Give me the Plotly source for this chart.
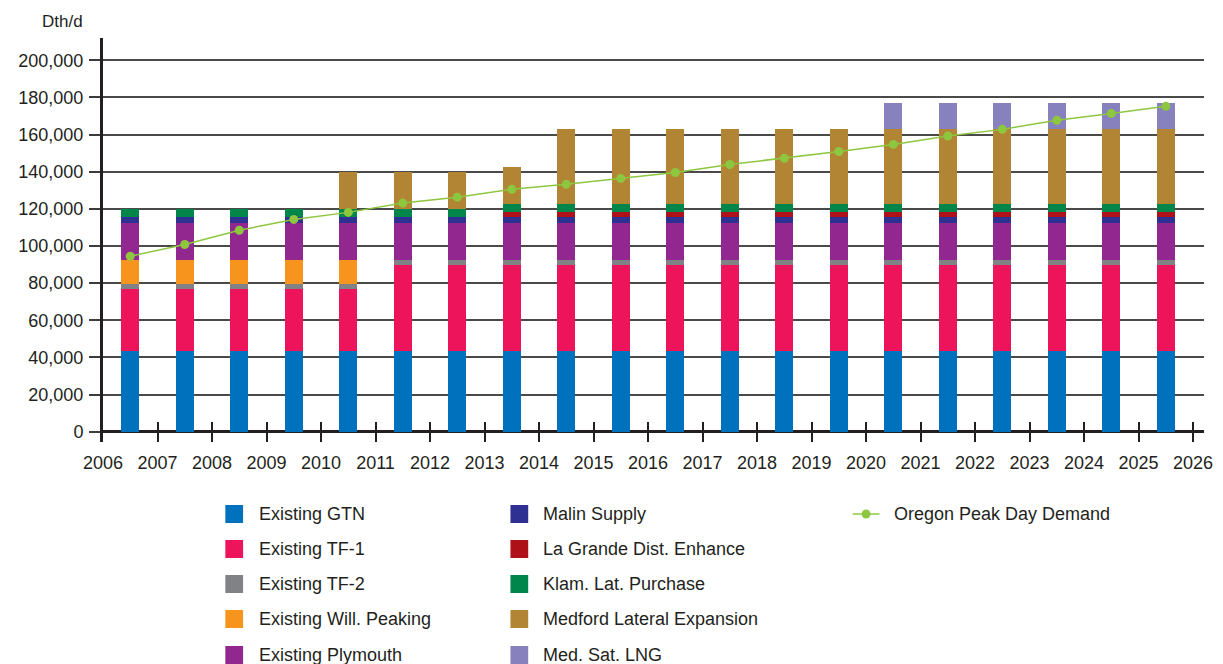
import plotly.graph_objects as go

years = list(range(2006, 2026))

existing_gtn = [43400] * 20
existing_tf1 = [33400] * 5 + [46400] * 15
existing_tf2 = [2700] * 20
will_peaking = [13000] * 5 + [0] * 15
plymouth = [20000] * 20
malin = [3000] * 20
la_grande = [0] * 7 + [2800] * 13
klamath = [4400] * 7 + [4300] * 13
medford = [0] * 4 + [20100] * 3 + [20000] + [40200] * 12
med_sat_lng = [0] * 14 + [14400] * 6

demand = [94500, 100800, 108500, 114300, 118100, 123100, 126300, 130500, 133200, 136400,
          139600, 143900, 147200, 150900, 154700, 159200, 162800, 167700, 171400, 175200]

series = [
    ("Existing GTN", existing_gtn, "#0071bc"),
    ("Existing TF-1", existing_tf1, "#ed145b"),
    ("Existing TF-2", existing_tf2, "#808285"),
    ("Existing Will. Peaking", will_peaking, "#f7941d"),
    ("Existing Plymouth", plymouth, "#92278f"),
    ("Malin Supply", malin, "#2e3192"),
    ("La Grande Dist. Enhance", la_grande, "#ae1118"),
    ("Klam. Lat. Purchase", klamath, "#00854a"),
    ("Medford Lateral Expansion", medford, "#b28535"),
    ("Med. Sat. LNG", med_sat_lng, "#8781bd"),
]
demand_name = "Oregon Peak Day Demand"
demand_color = "#8dc63f"

TEXT = "#231f20"
FONT = "Liberation Sans"

# the page body adds an 8px margin, so the figure is drawn 8px smaller and
# every position below is given in window pixels and shifted back
OFF = 8
W, H = 1223 - OFF, 664 - OFF
L, T = 97 - OFF, 38 - OFF
R = W - (1213 - OFF)
B = H - (442 - OFF)
PW, PH = W - L - R, H - T - B


def px_x(x):
    return (x - OFF - L) / PW


def px_y(y):
    return (H - B - (y - OFF)) / PH


bar_x = [y + 0.5 for y in years]

fig = go.Figure()
for name, vals, color in series:
    fig.add_trace(go.Bar(
        x=bar_x, y=vals, name=name, width=0.326,
        marker=dict(color=color, line=dict(width=0)),
        showlegend=False,
    ))

fig.add_trace(go.Scatter(
    x=bar_x, y=demand, name=demand_name, mode="lines+markers",
    line=dict(color=demand_color, width=1.5),
    marker=dict(color=demand_color, size=9),
    showlegend=False,
))

fig.update_layout(
    width=W, height=H,
    barmode="stack",
    plot_bgcolor="white", paper_bgcolor="white",
    margin=dict(l=L, r=R, t=T, b=B),
    font=dict(family=FONT, size=18, color=TEXT),
    xaxis=dict(
        range=[2006, 2026.2], tickvals=list(range(2006, 2027)),
        ticks="inside", ticklen=20, tickwidth=2, tickcolor=TEXT,
        showgrid=False, showline=False, zeroline=False,
        ticklabelstandoff=8,
        tickfont=dict(size=18, color=TEXT),
    ),
    yaxis=dict(
        range=[-5550, 212000], tickvals=list(range(0, 200001, 20000)),
        tickformat=",d", ticks="outside", ticklen=11, tickwidth=1.5, tickcolor="#3c3c3c",
        showgrid=True, gridcolor="#4a4a4a", gridwidth=1.5,
        showline=True, linecolor=TEXT, linewidth=3,
        zeroline=True, zerolinecolor=TEXT, zerolinewidth=3,
        ticklabelstandoff=2,
        tickfont=dict(size=18, color=TEXT),
    ),
)

fig.add_annotation(
    text="Dth/d", xref="paper", yref="paper", x=px_x(79), y=px_y(22),
    xanchor="right", yanchor="middle", showarrow=False,
    font=dict(size=17, color=TEXT),
)

# legend drawn by hand: two columns of squares and one line entry
row_y = [514, 549, 584, 619, 655]
cols = [(221, 253), (510, 541)]
for i, (name, vals, color) in enumerate(series):
    sx, tx = cols[i // 5]
    cy = row_y[i % 5]
    fig.add_shape(
        type="rect", xref="paper", yref="paper",
        x0=px_x(sx), x1=px_x(sx + 18), y0=px_y(cy - 9), y1=px_y(cy + 9),
        fillcolor=color, line=dict(width=0),
    )
    fig.add_annotation(
        text=name, xref="paper", yref="paper", x=px_x(tx), y=px_y(cy),
        xanchor="left", yanchor="middle", showarrow=False,
        font=dict(size=18, color=TEXT),
    )

fig.add_shape(
    type="line", xref="paper", yref="paper",
    x0=px_x(857), x1=px_x(884), y0=px_y(514), y1=px_y(514),
    line=dict(color=demand_color, width=1.5),
)
fig.add_shape(
    type="circle", xref="paper", yref="paper",
    x0=px_x(866), x1=px_x(875), y0=px_y(509.5), y1=px_y(518.5),
    fillcolor=demand_color, line=dict(width=0),
)
fig.add_annotation(
    text=demand_name, xref="paper", yref="paper", x=px_x(897), y=px_y(514),
    xanchor="left", yanchor="middle", showarrow=False,
    font=dict(size=18, color=TEXT),
)

fig.write_html("out.html")
